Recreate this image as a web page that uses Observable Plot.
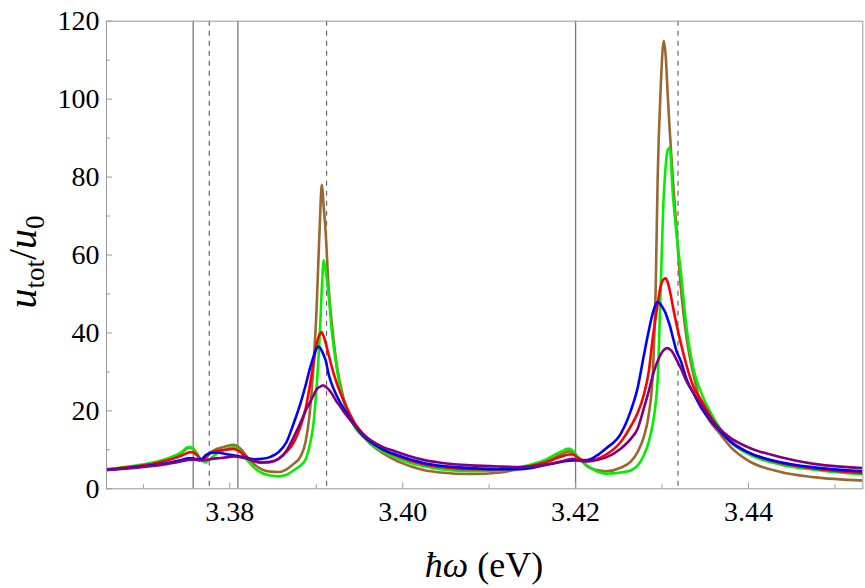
<!DOCTYPE html>
<html><head><meta charset="utf-8">
<script src="https://cdn.jsdelivr.net/npm/d3@7"></script>
<script src="https://cdn.jsdelivr.net/npm/@observablehq/plot@0.6"></script>
<style>
body{margin:0;background:#fff;}
</style>
</head><body><div id="chart"></div>
<script>
const energy = [
3.36573, 3.36851, 3.37082, 3.37279, 3.37429, 3.37522, 3.37568, 3.37615, 3.37672, 3.37719,
3.37777, 3.37846, 3.37939, 3.38043, 3.38124, 3.38205, 3.38286, 3.38378, 3.38471, 3.38564,
3.38656, 3.38737, 3.38818, 3.38876, 3.38922, 3.38969, 3.39003, 3.39027, 3.39050, 3.39061,
3.39073, 3.39084, 3.39108, 3.39142, 3.39177, 3.39223, 3.39281, 3.39351, 3.39455, 3.39547,
3.39628, 3.39779, 3.39918, 3.40091, 3.40265, 3.40439, 3.40786, 3.41133, 3.41365, 3.41654,
3.41828, 3.41920, 3.41966, 3.42036, 3.42140, 3.42244, 3.42348, 3.42522, 3.42638, 3.42719,
3.42788, 3.42846, 3.42892, 3.42927, 3.42950, 3.42985, 3.43020, 3.43043, 3.43066, 3.43089,
3.43124, 3.43170, 3.43216, 3.43286, 3.43367, 3.43448, 3.43564, 3.43656, 3.43795, 3.43992,
3.44374, 3.44756, 3.45323];

const brownSeries = [
4.9, 5.6, 6.3, 7.5, 9.0, 10.5, 10.4, 9.2, 7.5, 7.9,
9.3, 10.2, 10.8, 11.3, 10.3, 8.1, 6.2, 4.9, 4.4, 4.3,
5.0, 6.4, 8.3, 12.0, 19.0, 32.0, 46.0, 60.0, 73.0, 78.0,
76.5, 73.0, 66.0, 52.0, 43.0, 34.0, 26.5, 20.5, 15.8, 13.3,
11.5, 9.0, 7.3, 5.8, 4.7, 4.2, 3.8, 4.2, 5.2, 7.0,
8.8, 9.6, 9.3, 7.9, 5.7, 4.8, 4.5, 5.4, 7.0, 9.5,
13.2, 19.0, 29.0, 51.7, 80.0, 103.0, 115.0, 111.0, 101.0, 92.0,
80.0, 66.0, 52.0, 38.5, 29.0, 22.0, 17.0, 14.5, 10.7, 7.3,
4.3, 3.0, 2.1];

const greenSeries = [
5.0, 5.8, 6.6, 7.8, 9.2, 10.7, 10.5, 9.0, 7.3, 6.8,
7.8, 9.0, 10.0, 10.7, 9.6, 7.3, 5.3, 4.0, 3.4, 3.2,
3.6, 4.7, 6.0, 7.5, 11.0, 17.0, 26.0, 34.0, 44.0, 50.0,
55.0, 58.7, 56.0, 50.0, 41.0, 33.0, 25.5, 20.0, 15.5, 13.3,
11.6, 9.4, 8.0, 6.6, 5.7, 5.0, 4.5, 4.7, 5.6, 7.5,
9.5, 10.3, 9.8, 8.0, 5.9, 4.5, 3.9, 4.2, 4.7, 6.0,
8.5, 12.0, 16.5, 22.0, 28.0, 51.7, 75.0, 83.0, 87.0, 87.5,
76.0, 65.0, 56.0, 41.0, 30.5, 25.0, 19.5, 16.0, 12.0, 9.0,
6.2, 4.9, 3.7];

const redSeries = [
5.0, 5.6, 6.3, 7.3, 8.4, 9.3, 9.4, 8.7, 7.6, 8.2,
9.2, 9.7, 10.0, 10.2, 9.4, 7.8, 7.0, 6.7, 6.9, 7.7,
9.5, 11.8, 16.0, 20.5, 26.0, 32.5, 37.0, 39.0, 40.0, 40.2,
39.8, 39.2, 37.5, 34.5, 31.5, 28.0, 24.5, 21.0, 16.5, 14.0,
12.3, 10.0, 8.6, 7.2, 6.2, 5.6, 5.0, 5.0, 5.4, 6.8,
8.2, 8.8, 8.8, 7.8, 7.2, 7.6, 8.7, 12.0, 16.0, 19.5,
24.0, 30.0, 38.5, 44.0, 47.5, 52.0, 53.8, 54.0, 53.0, 51.0,
47.0, 42.0, 37.5, 31.5, 26.0, 23.0, 18.5, 15.5, 12.2, 9.4,
6.6, 5.2, 4.0];

const blueSeries = [
4.9, 5.4, 6.0, 6.6, 7.3, 7.8, 7.8, 7.6, 7.6, 8.6,
9.2, 9.3, 9.0, 8.6, 8.3, 7.9, 7.6, 7.7, 8.2, 9.4,
12.0, 16.7, 22.0, 26.5, 30.5, 34.0, 36.0, 36.5, 36.0, 35.5,
35.0, 34.4, 33.0, 29.5, 27.0, 24.5, 22.0, 19.5, 16.0, 13.5,
12.0, 10.0, 8.8, 7.5, 6.5, 5.9, 5.3, 5.0, 5.0, 6.1,
6.9, 7.2, 7.3, 7.3, 7.4, 8.5, 10.3, 14.1, 20.0, 26.0,
34.0, 40.5, 45.0, 47.3, 48.0, 47.3, 46.0, 45.0, 43.5, 42.0,
39.0, 35.2, 32.9, 28.0, 24.4, 21.0, 17.5, 15.2, 12.0, 9.4,
6.8, 5.5, 4.5];

const purpleSeries = [
4.8, 5.3, 5.8, 6.4, 7.0, 7.4, 7.5, 7.4, 7.3, 7.4,
7.6, 7.8, 8.0, 8.3, 8.1, 7.7, 7.1, 6.8, 6.9, 7.7,
9.8, 13.2, 17.0, 20.0, 22.0, 24.0, 25.5, 26.0, 26.3, 26.4,
26.5, 26.5, 26.2, 25.5, 24.5, 22.8, 21.0, 18.8, 16.0, 13.8,
12.5, 10.6, 9.6, 8.3, 7.3, 6.7, 6.0, 5.7, 5.6, 6.2,
7.0, 7.5, 7.7, 7.3, 7.0, 7.4, 8.0, 10.3, 12.8, 15.5,
20.5, 25.0, 29.0, 31.5, 32.8, 34.5, 35.6, 36.0, 36.1, 35.8,
35.0, 33.0, 31.0, 27.5, 24.5, 21.8, 18.0, 15.6, 13.0, 10.7,
8.1, 6.4, 5.3];

const seriesNames = ["series 1", "series 2", "series 3", "series 4", "series 5"];
const seriesColors = ["#9c6630", "#00f000", "#ff0000", "#0000ff", "#800080"];
const seriesValues = [brownSeries, greenSeries, redSeries, blueSeries, purpleSeries];

const solidLines = [3.37576, 3.38093, 3.42];
const dashedLines = [3.37762, 3.39119, 3.43185];
const xMajor = [3.38, 3.40, 3.42, 3.44];
const xMinor = [3.37, 3.39, 3.41, 3.43, 3.45];
const yMajor = [0, 20, 40, 60, 80, 100, 120];
const yMinor = [10, 30, 50, 70, 90, 110];
const xDomain = [3.36573, 3.45323];
const yDomain = [0, 120];

const rows = [];
seriesValues.forEach((vals, i) => vals.forEach((v, j) => rows.push({x: energy[j], y: v, s: seriesNames[i]})));

const axisColor = "#999";
const serif = "'Liberation Serif', 'Times New Roman', serif";
const plot = Plot.plot({
  width: 865, height: 588,
  marginLeft: 106, marginRight: 2.7, marginTop: 20.7, marginBottom: 99.7,
  x: {domain: xDomain},
  y: {domain: yDomain},
  color: {type: "ordinal", domain: seriesNames, range: seriesColors},
  style: {background: "#fff", color: "#000"},
  marks: [
    Plot.ruleX(solidLines, {stroke: "#777", strokeWidth: 1.3}),
    Plot.ruleX(dashedLines, {stroke: "#666", strokeWidth: 1.2, strokeDasharray: "5,5"}),
    Plot.line(rows, {x: "x", y: "y", z: "s", stroke: "s", strokeWidth: 2.6, curve: "monotone-x", clip: true}),
    Plot.frame({stroke: axisColor}),
    Plot.axisX(xMajor, {tickSize: -6, tickFormat: () => "", stroke: axisColor, label: null}),
    Plot.axisX(xMinor, {tickSize: -4, tickFormat: () => "", stroke: axisColor, label: null}),
    Plot.axisX(xMajor, {tickSize: 0, tickPadding: 12, tickFormat: d => d.toFixed(2), fontSize: 28, fill: "#000", label: null}),
    Plot.axisY(yMajor, {tickSize: -6, tickFormat: () => "", stroke: axisColor, label: null}),
    Plot.axisY(yMinor, {tickSize: -4, tickFormat: () => "", stroke: axisColor, label: null}),
    Plot.axisY(yMajor, {tickSize: 0, tickPadding: 7, fontSize: 28, fill: "#000", label: null})
  ]
});
document.getElementById("chart").appendChild(plot);

const svg = d3.select(plot);
const xl = svg.append("text")
  .attr("x", 484).attr("y", 577)
  .attr("text-anchor", "middle")
  .attr("font-size", 36).attr("fill", "#000");
xl.append("tspan").attr("font-style", "italic").text("ħω");
xl.append("tspan").text(" (eV)");

const yl = svg.append("text")
  .attr("transform", "translate(36,262) rotate(-90)")
  .attr("text-anchor", "middle")
  .attr("font-size", 40).attr("fill", "#000");
yl.append("tspan").attr("font-style", "italic").text("u");
yl.append("tspan").attr("font-size", 27).attr("dy", 8).text("tot");
yl.append("tspan").attr("dy", -8).text("/");
yl.append("tspan").attr("font-style", "italic").text("u");
yl.append("tspan").attr("font-size", 27).attr("dy", 8).text("0");

plot.style.fontFamily = serif;
svg.selectAll("text").style("font-family", serif).attr("font-family", serif);
</script>
</body></html>
